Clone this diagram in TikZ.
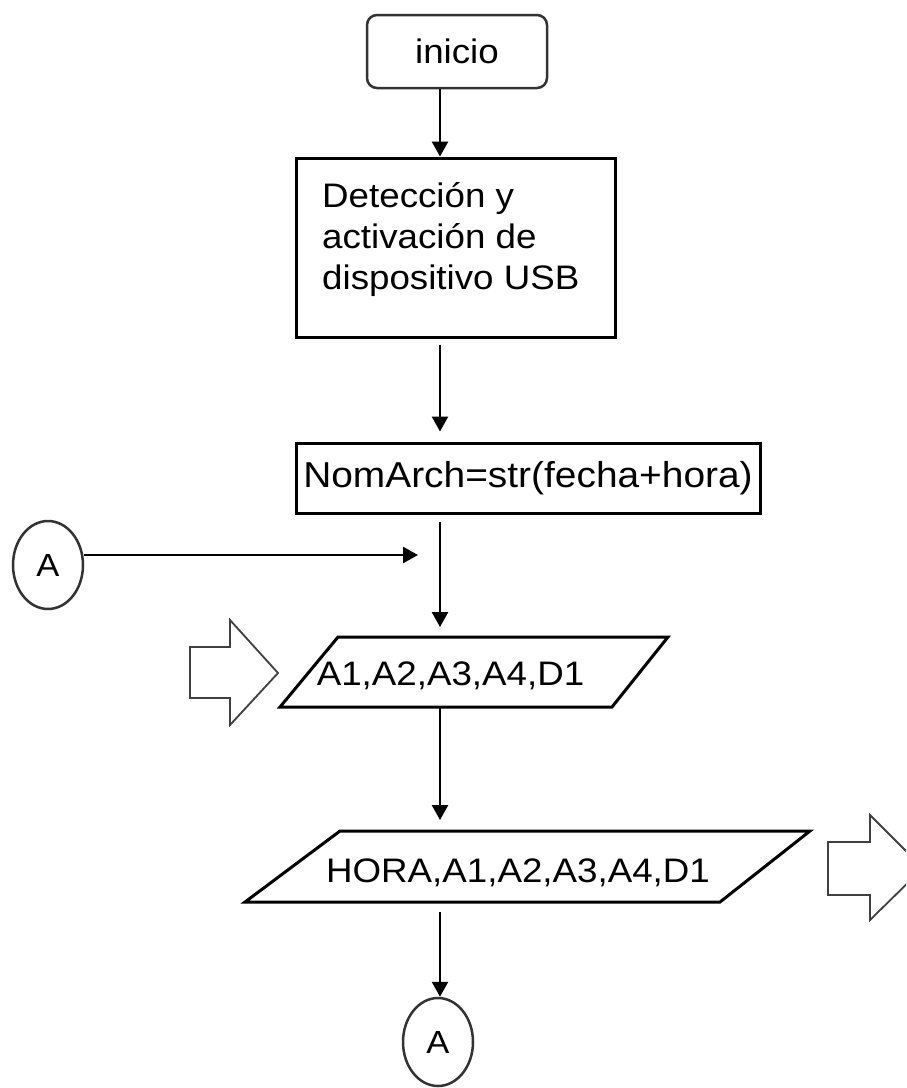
\documentclass[tikz,border=0pt]{standalone}
\usepackage{fontspec}
\setmainfont{Liberation Sans}[FakeStretch=1.08]
\usetikzlibrary{shapes.geometric,arrows.meta,calc}
\begin{document}
\begin{tikzpicture}[x=1pt,y=-1pt,
  conn/.style={line width=2.5pt,-{Triangle[width=16pt,length=15pt]}},
  procbox/.style={draw, line width=3pt, rectangle, inner sep=0pt},
  conncirc/.style={draw=black!80, line width=2.5pt, ellipse, minimum width=70pt, minimum height=88pt, inner sep=0pt, font=\fontsize{32}{38}\selectfont},
  blockarrow/.style={draw=black!75, line width=1.8pt, fill=white},
  iobox/.style={draw, line width=3pt, line join=miter},
  txt/.style={font=\fontsize{34}{41}\selectfont, inner sep=0pt}
]
\fill[white] (0,0) rectangle (906,1088);
\useasboundingbox (0,0) rectangle (906,1088);
\clip (0,0) rectangle (906,1088);
\coordinate (axis) at (440,0);

% inicio
\node[procbox, txt, rounded corners=10pt, draw=black!80, line width=2.5pt,
      minimum width=180pt, minimum height=73pt] (inicio) at (457,51.5) {inicio};

% process box
\node[procbox, minimum width=319pt, minimum height=179pt] (det) at (455.5,247.5) {};
\node[txt, anchor=north west, align=left] (dettxt) at (322,182)
  {Detección y\\activación de\\dispositivo USB};

% NomArch
\node[procbox, minimum width=464pt, minimum height=70pt,
      font=\fontsize{36}{43}\selectfont] (nom) at (528,478) {NomArch=str(fecha+hora)};

% input parallelogram
\coordinate (p1a) at (338,637);
\coordinate (p1b) at (668,637);
\coordinate (p1c) at (612,707);
\coordinate (p1d) at (280,707);
\draw[iobox] (p1a) -- (p1b) -- (p1c) -- (p1d) -- cycle;
\node[txt, anchor=base] (in1) at (450.5,685) {A1,A2,A3,A4,D1};

% output parallelogram
\coordinate (p2a) at (340,831);
\coordinate (p2b) at (810,831);
\coordinate (p2c) at (720,902);
\coordinate (p2d) at (245,902);
\draw[iobox] (p2a) -- (p2b) -- (p2c) -- (p2d) -- cycle;
\node[txt, anchor=base] (out1) at (518,882) {HORA,A1,A2,A3,A4,D1};

% connectors A
\node[conncirc] (Aleft) at (48,565) {A};
\node[conncirc] (Abot) at (438,1042) {A};
\coordinate (join) at (418,555);

% block arrows
\draw[blockarrow] (190,647) -- (230,647) -- (230,620) -- (278,673) -- (230,725) -- (230,698) -- (190,698) -- cycle;
\draw[blockarrow] (828,842) -- (870,842) -- (870,815) -- (923,868) -- (870,920) -- (870,895) -- (828,895) -- cycle;

% flow lines
\draw[conn] (inicio.south -| axis) -- (det.north -| axis);
\draw[conn, shorten <=6pt, shorten >=10pt] (det.south -| axis) -- (nom.north -| axis);
\draw[conn, shorten <=7pt, shorten >=10pt] (nom.south -| axis) -- (p1a -| axis);
\draw[conn, shorten >=11pt] (p1d -| axis) -- (p2a -| axis);
\draw[conn, shorten <=10pt] (p2d -| axis) -- (Abot.north -| axis);
\draw[conn] ([yshift=10pt]Aleft.east) -- (join);
\end{tikzpicture}
\end{document}
